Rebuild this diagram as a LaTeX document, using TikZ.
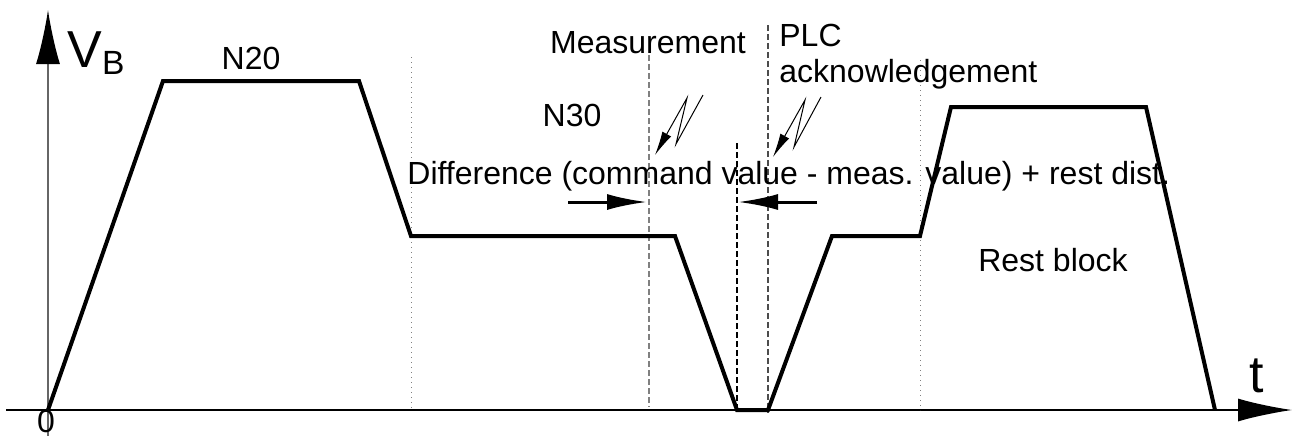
\documentclass[tikz,border=0pt]{standalone}
\usepackage{fontspec}
\setmainfont{Liberation Sans}
\usetikzlibrary{arrows.meta}
\begin{document}
\begin{tikzpicture}[x=0.5pt,y=-0.5pt,
  profile/.style={line width=2pt,line join=miter},
  axis/.style={line width=0.7pt},
  border/.style={gray,line width=0.5pt,dotted},
  cut/.style={line width=0.6pt,dash pattern=on 3pt off 1.5pt},
  lbl/.style={inner sep=0pt,font=\fontsize{16}{18}\selectfont},
  big/.style={inner sep=0pt,font=\fontsize{26}{26}\selectfont},
  flash/.style={line width=0.5pt,-{Latex[length=12pt,width=5pt]}},
  gap/.style={line width=1.5pt,-{Latex[length=20pt,width=8pt]}}]
\useasboundingbox (0,0) rectangle (1292,436);
% Draw axes
\coordinate (o) at (48,410);
\coordinate (xend) at (1292,410);
\coordinate (yend) at (48,10);
\draw[axis,-{Latex[length=27pt,width=11.5pt]}] (6,410) -- (xend);
\draw[axis,black!60,-{Latex[length=27pt,width=12pt,color=black]}] (48,436) -- (yend);
% block borders
\draw[border] (411,57) -- (411,410);
\draw[border] (920,60) -- (920,410);
% measurement / PLC instants
\draw[cut,gray] (649,55) -- (649,407);
\draw[cut] (737,143) -- (737,410);
\draw[cut,black!70] (768,25) -- (768,413);
% the velocity profile
\draw[profile] (o) -- (163,81) -- (359,81) -- (411,236) -- (675,236)
  -- (737,410) -- (768,410) -- (832,236) -- (920,236) -- (951,107)
  -- (1146,107) -- (1215,410);
% the labels
\node[big,anchor=base west] (vb) at (67,67) {V\raisebox{-3.5pt}{\fontsize{16.8}{17}\selectfont B}};
\node[big,anchor=base] (t) at (1257,392) {t};
\node[lbl,anchor=base] (zero) at (46,432) {0};
\node[lbl,anchor=base] (n20) at (251,69) {N20};
\node[lbl,anchor=base] (n30) at (572,126) {N30};
\node[lbl,anchor=base] (meas) at (648,53) {Measurement};
\node[lbl,anchor=base west,align=left] (plc) at (779,82) {PLC\\acknowledgement};
\node[lbl,anchor=base west] (diff) at (407,184) {Difference (command value - meas. value) + rest dist.};
\node[lbl,anchor=base] (rest) at (1053,271) {Rest block};
% signal flashes
\coordinate (mhit) at (655,155);
\coordinate (phit) at (773,157);
\draw[flash] (703,95) -- (676,144) -- (687,98) -- (mhit);
\draw[flash] (821,97) -- (794,147) -- (805,100) -- (phit);
% difference arrows
\coordinate (lgap) at (647,202);
\coordinate (rgap) at (738,202);
\draw[gap] (568,202) -- (lgap);
\draw[gap] (817,202) -- (rgap);
\end{tikzpicture}
\end{document}
